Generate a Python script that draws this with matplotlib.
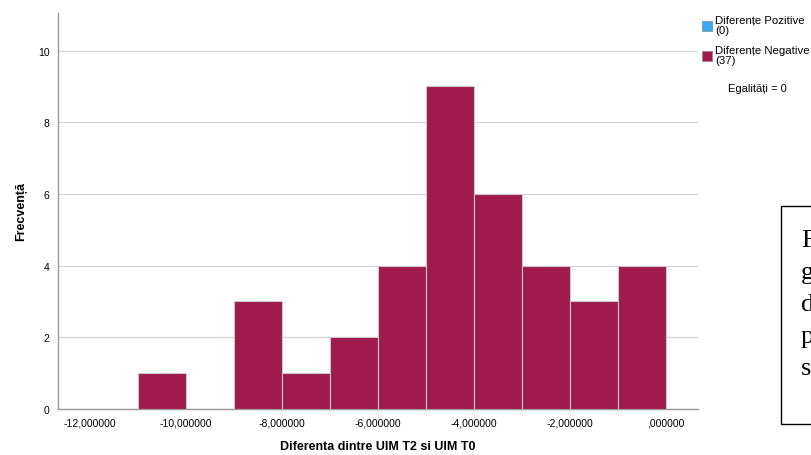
import matplotlib
matplotlib.use('Agg')
import matplotlib.pyplot as plt
from matplotlib.patches import Rectangle

# histogram data (bins of width 1, left edges)
bin_left = [-12, -11, -10, -9, -8, -7, -6, -5, -4, -3, -2, -1]
counts = [0, 1, 0, 3, 1, 2, 4, 9, 6, 4, 3, 4]

x_ticks = [-12, -10, -8, -6, -4, -2, 0]
x_tick_labels = ['-12,000000', '-10,000000', '-8,000000', '-6,000000',
                 '-4,000000', '-2,000000', ',000000']
y_ticks = [0, 2, 4, 6, 8, 10]

legend_labels = ['Diferențe Pozitive\n(0)', 'Diferențe Negative\n(37)']
legend_colors = ['#36a9f2', '#a11a4e']
ties_text = 'Egalități = 0'

box_letters = ['F', 'g', 'd', 'p', 's']

plt.rcParams['font.family'] = ['Liberation Sans', 'DejaVu Sans']

fig = plt.figure(figsize=(8.12, 4.56), dpi=100)
ax = fig.add_axes([0.0714, 0.1009, 0.788, 0.8684])

ax.bar(bin_left, counts, width=1, align='edge', color='#a11a4e',
       edgecolor='#c8c8c8', linewidth=0.8, zorder=3)

ax.set_xlim(-12.66, 0.67)
ax.set_ylim(0, 11.05)
ax.set_xticks(x_ticks)
ax.set_xticklabels(x_tick_labels, fontsize=7.5)
ax.set_yticks(y_ticks)
ax.set_yticklabels([str(v) for v in y_ticks], fontsize=7.5)
ax.tick_params(length=0, pad=6)
ax.yaxis.grid(True, color='#d4d4d4', linewidth=0.9, zorder=0)
ax.set_axisbelow(True)

for side in ['top', 'right']:
    ax.spines[side].set_visible(False)
for side in ['left', 'bottom']:
    ax.spines[side].set_color('#9a9a9a')
    ax.spines[side].set_linewidth(1.0)

ax.set_xlabel('Diferenta dintre UIM T2 si UIM T0', fontsize=9, fontweight='bold',
              labelpad=9)
ax.set_ylabel('Frecvență', fontsize=9, fontweight='bold', labelpad=8)

# legend on the right, clipped by the figure edge
fig_w, fig_h = 812, 456
leg_y = [22, 52]
for y, lab, col in zip(leg_y, legend_labels, legend_colors):
    fig.patches.append(Rectangle((702 / fig_w, 1 - (y + 10) / fig_h), 10 / fig_w, 10 / fig_h,
                                 transform=fig.transFigure, facecolor=col,
                                 edgecolor='#888888', linewidth=0.5))
    fig.text(715 / fig_w, 1 - (y - 6) / fig_h, lab, fontsize=8.2, va='top', ha='left',
             linespacing=0.95)
fig.text(728 / fig_w, 1 - 89 / fig_h, ties_text, fontsize=8, va='center', ha='left')

# clipped document text box
fig.patches.append(Rectangle((781 / fig_w, 1 - 425 / fig_h), 60 / fig_w, 218 / fig_h,
                             transform=fig.transFigure, facecolor='white',
                             edgecolor='black', linewidth=1.0))
letter_y = [241, 273, 305, 337, 369]
for y, ch in zip(letter_y, box_letters):
    fig.text(801 / fig_w, 1 - y / fig_h, ch, fontsize=19, family='Liberation Serif',
             va='center', ha='left')

fig.savefig('out.png', dpi=100)
